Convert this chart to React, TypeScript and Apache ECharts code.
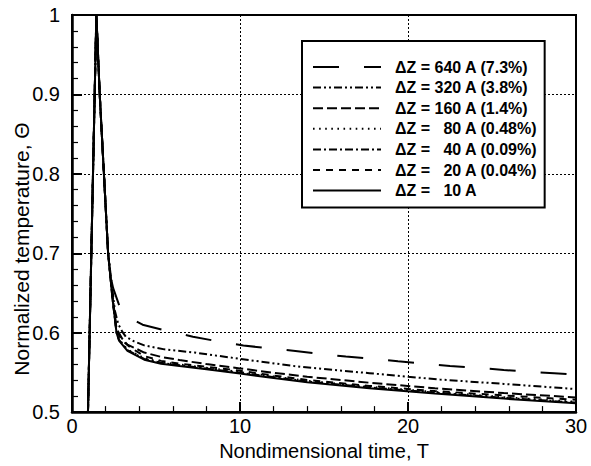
import React, { useEffect, useRef } from "react";
import * as echarts from "echarts";

// Shared initial pulse (T, normalized temperature)
const spike: number[][] = [
  [0.95, 0.5], [1.45, 1.0], [1.65, 0.9], [1.9, 0.8], [2.15, 0.7],
];

const tail640: number[][] = [
  [2.3, 0.67], [2.45, 0.656], [2.9, 0.629], [3.5, 0.618], [4.2, 0.61], [5.7, 0.602],
  [7.2, 0.595], [8.7, 0.589], [10.2, 0.584], [11.8, 0.58], [13.3, 0.577], [14.9, 0.573],
  [16.3, 0.57], [17.9, 0.567], [19.4, 0.564], [21, 0.561], [22.5, 0.558], [24, 0.556],
  [25.7, 0.553], [27.1, 0.551], [28.7, 0.549], [30, 0.547],
];
const tail320: number[][] = [
  [2.4, 0.655], [2.55, 0.628], [2.75, 0.611], [3, 0.601], [3.2, 0.595], [3.7, 0.589],
  [4.3, 0.584], [5.5, 0.579], [7.3, 0.575], [10, 0.567], [13.6, 0.557], [17.7, 0.549],
  [20, 0.5445], [21.9, 0.541], [25.7, 0.5355], [30, 0.529],
];
const tail160: number[][] = [
  [2.4, 0.648], [2.65, 0.605], [3, 0.592], [3.3, 0.585], [4.3, 0.575], [5.3, 0.5695],
  [6.4, 0.5655], [8, 0.5605], [10, 0.555], [12, 0.5495], [14, 0.5445], [17.7, 0.537],
  [21.6, 0.53], [25.7, 0.524], [30, 0.5185],
];
const tail80: number[][] = [
  [2.4, 0.645], [2.65, 0.601], [2.8, 0.592], [3.3, 0.579], [4.3, 0.568], [5.3, 0.563],
  [6.4, 0.56], [8, 0.556], [10, 0.5505], [12, 0.545], [14, 0.5395], [17.7, 0.532],
  [21.6, 0.5255], [25.7, 0.519], [30, 0.513],
];
const tail40: number[][] = [
  [2.4, 0.645], [2.65, 0.6], [2.8, 0.591], [3.3, 0.578], [4.3, 0.567], [5.3, 0.562],
  [6.4, 0.559], [8, 0.555], [10, 0.5495], [12, 0.544], [14, 0.5385], [17.7, 0.531],
  [21.6, 0.5245], [25.7, 0.518], [30, 0.512],
];
const tail20: number[][] = [
  [2.4, 0.646], [2.65, 0.602], [3, 0.59], [3.5, 0.581], [4.3, 0.5705], [5.3, 0.5645],
  [6.4, 0.561], [8, 0.557], [10, 0.552], [12, 0.546], [14, 0.5405], [17.7, 0.533],
  [21.6, 0.5265], [25.7, 0.521], [30, 0.5155],
];
const tail10: number[][] = [
  [2.4, 0.645], [2.65, 0.6], [2.8, 0.59], [3.3, 0.577], [4.3, 0.566], [5.3, 0.561],
  [6.4, 0.558], [8, 0.554], [10, 0.5485], [12, 0.543], [14, 0.5375], [17.7, 0.53],
  [21.6, 0.5235], [25.7, 0.517], [30, 0.511],
];

const seriesNames: string[] = [
  "ΔZ = 640 A (7.3%)",
  "ΔZ = 320 A (3.8%)",
  "ΔZ = 160 A (1.4%)",
  "ΔZ =   80 A (0.48%)",
  "ΔZ =   40 A (0.09%)",
  "ΔZ =   20 A (0.04%)",
  "ΔZ =   10 A",
];
const tails: number[][][] = [tail640, tail320, tail160, tail80, tail40, tail20, tail10];
const dashes: (number[] | string)[] = [
  [26, 25],
  [8, 3, 2, 3, 2, 3],
  [10, 4],
  [1.6, 4.5],
  [8, 3, 2, 3],
  [7, 6],
  "solid",
];

const xTicks = { min: 0, max: 30, interval: 10 };
const yTicks = { min: 0.5, max: 1, interval: 0.1 };

const FONT = "'Liberation Sans', Arial, Helvetica, sans-serif";

export default function App() {
  const ref = useRef<HTMLDivElement>(null);
  useEffect(() => {
    if (!ref.current) return;
    const chart = echarts.init(ref.current, null, { renderer: "svg" });
    const series = seriesNames.map((name, i) => ({
      name,
      type: "line",
      data: spike.concat(tails[i]),
      symbol: "none",
      showSymbol: false,
      smooth: false,
      lineStyle: { color: "#000", width: i === 3 ? 1.8 : 2, type: dashes[i] as any },
      itemStyle: { color: "#000" },
      z: 2 + i,
    }));
    chart.setOption({
      animation: false,
      backgroundColor: "#fff",
      grid: {
        left: 72, right: 15, top: 15, bottom: 50,
        show: true, borderColor: "#000", borderWidth: 2, backgroundColor: "transparent",
      },
      xAxis: {
        type: "value",
        min: xTicks.min, max: xTicks.max, interval: xTicks.interval,
        name: "Nondimensional time, T",
        nameLocation: "middle",
        nameGap: 27,
        nameTextStyle: { fontFamily: FONT, fontSize: 20, color: "#000" },
        axisLine: { show: true, lineStyle: { color: "#000", width: 2.5 } },
        axisTick: { show: true, inside: true, length: 10, lineStyle: { color: "#000", width: 2 } },
        minorTick: { show: true, splitNumber: 5, length: 6, lineStyle: { color: "#000", width: 1.2 } },
        axisLabel: { fontFamily: FONT, fontSize: 20, color: "#000", margin: 4 },
        splitLine: { show: true, lineStyle: { color: "#000", width: 1, type: [2, 2] } },
      },
      yAxis: {
        type: "value",
        min: yTicks.min, max: yTicks.max, interval: yTicks.interval,
        axisLine: { show: true, lineStyle: { color: "#000", width: 2.5 } },
        axisTick: { show: true, inside: true, length: 10, lineStyle: { color: "#000", width: 2 } },
        minorTick: { show: true, splitNumber: 5, length: 6, lineStyle: { color: "#000", width: 1.2 } },
        axisLabel: { fontFamily: FONT, fontSize: 20, color: "#000", margin: 12 },
        splitLine: { show: true, lineStyle: { color: "#000", width: 1, type: [2, 2] } },
      },
      legend: {
        orient: "vertical",
        left: 302,
        top: 41,
        padding: [18, 7, 9, 10],
        itemWidth: 68,
        itemHeight: 14,
        itemGap: 4.6,
        borderColor: "#000",
        borderWidth: 2,
        backgroundColor: "#fff",
        selectedMode: false,
        itemStyle: { color: "transparent", borderColor: "transparent", borderWidth: 0, opacity: 0 },
        textStyle: {
          fontFamily: FONT, fontWeight: "bold", fontSize: 16, lineHeight: 14,
          color: "#000", padding: [0, 0, 0, 9],
        },
        data: seriesNames,
      },
      graphic: [
        {
          type: "text",
          x: 21,
          y: 249,
          rotation: Math.PI / 2,
          style: {
            text: "Normalized temperature, Θ",
            font: `21px ${FONT}`,
            fill: "#000",
            align: "center",
            verticalAlign: "middle",
          },
        },
      ],
      series,
    });
    return () => chart.dispose();
  }, []);
  return (
    <div
      ref={ref}
      style={{ position: "absolute", left: 0, top: 0, width: 591, height: 466, background: "#fff" }}
    />
  );
}
